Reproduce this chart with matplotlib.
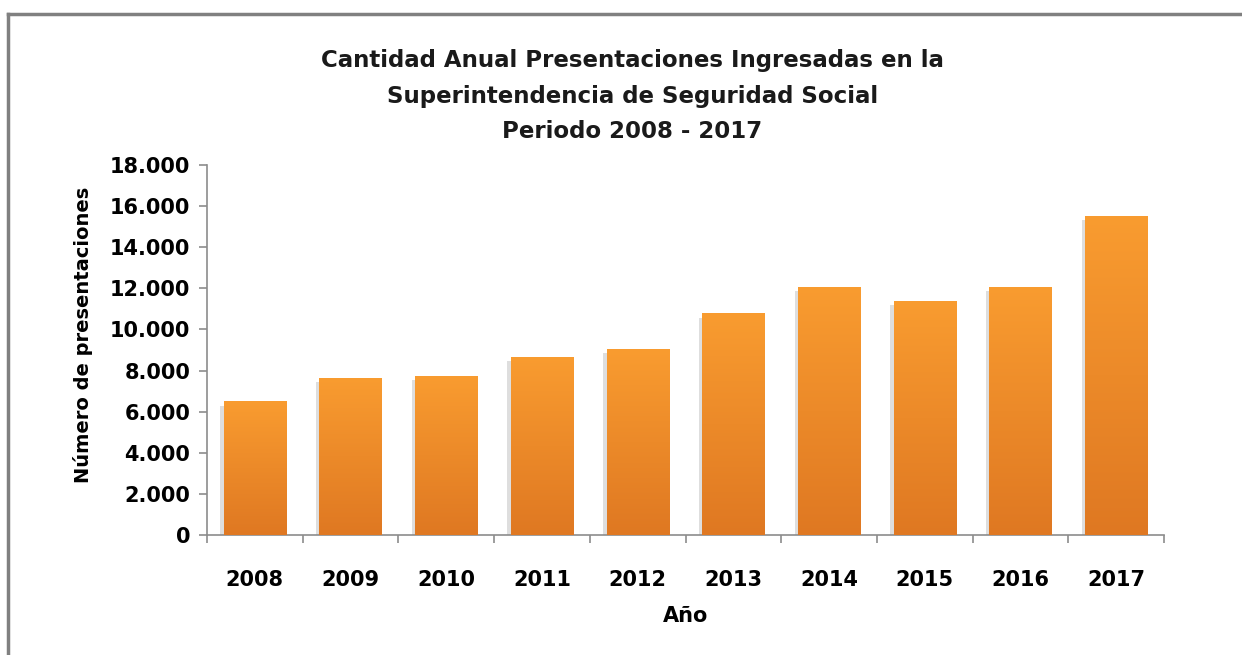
import numpy as np
import matplotlib.pyplot as plt
from matplotlib.colors import LinearSegmentedColormap
from matplotlib.ticker import FuncFormatter, MultipleLocator
from matplotlib.lines import Line2D

years = ['2008', '2009', '2010', '2011', '2012', '2013', '2014', '2015', '2016', '2017']
presentaciones = [6500, 7650, 7750, 8680, 9030, 10780, 12080, 11400, 12080, 15520]

plt.rcParams['font.family'] = ['DejaVu Sans']
plt.rcParams['font.weight'] = 'bold'

fig = plt.figure(figsize=(12.42, 6.55), dpi=100)
ax = fig.add_axes([207 / 1242, 1 - 535 / 655, (1164 - 207) / 1242, 370 / 655])

x = np.arange(len(years))
width = 0.65
grad = LinearSegmentedColormap.from_list('naranja', ['#df7822', '#f99c30'])

# sombra suave a la izquierda
ax.bar(x - 0.035, np.array(presentaciones) - 200, width=width, color='#8a8a8a', alpha=0.28, zorder=1)
bars = ax.bar(x, presentaciones, width=width, color='#f08a28', zorder=2)
gradient = np.linspace(0, 1, 256).reshape(-1, 1)
for b in bars:
    x0, w, h = b.get_x(), b.get_width(), b.get_height()
    im = ax.imshow(gradient, cmap=grad, origin='lower', aspect='auto',
                   extent=[x0, x0 + w, 0, h], zorder=3)
    im.set_clip_path(b)

ax.set_xlim(-0.5, len(years) - 0.5)
ax.set_ylim(0, 18000)
ax.yaxis.set_major_locator(MultipleLocator(2000))
ax.yaxis.set_major_formatter(FuncFormatter(lambda v, p: f'{int(v):,}'.replace(',', '.')))
ax.set_xticks(x)
ax.set_xticklabels(years)
ax.set_xticks(np.arange(-0.5, len(years)), minor=True)
ax.tick_params(axis='x', which='major', length=0, pad=25, labelsize=15)
ax.tick_params(axis='x', which='minor', length=6, color='#8c8c8c', width=1.2)
ax.tick_params(axis='y', length=6, color='#8c8c8c', width=1.2, labelsize=15, pad=6)

for s in ['top', 'right']:
    ax.spines[s].set_visible(False)
for s in ['left', 'bottom']:
    ax.spines[s].set_color('#8c8c8c')
    ax.spines[s].set_linewidth(1.2)

ax.set_ylabel('Número de presentaciones', fontsize=14, fontweight='bold')
ax.yaxis.set_label_coords(-0.119, 0.54)
ax.set_xlabel('Año', fontsize=15, fontweight='bold', labelpad=12)

fig.text(0.509, 1 - 96 / 655,
         'Cantidad Anual Presentaciones Ingresadas en la\nSuperintendencia de Seguridad Social\nPeriodo 2008 - 2017',
         ha='center', va='center', fontsize=16.5, fontweight='bold', linespacing=1.72, color='#1a1a1a')

# marco
fig.add_artist(Line2D([8 / 1242, 8 / 1242], [0, 1 - 14 / 655], color='#808080', lw=2.5))
fig.add_artist(Line2D([8 / 1242, 1], [1 - 14 / 655, 1 - 14 / 655], color='#808080', lw=2.5))

plt.savefig('out.png', dpi=100)
